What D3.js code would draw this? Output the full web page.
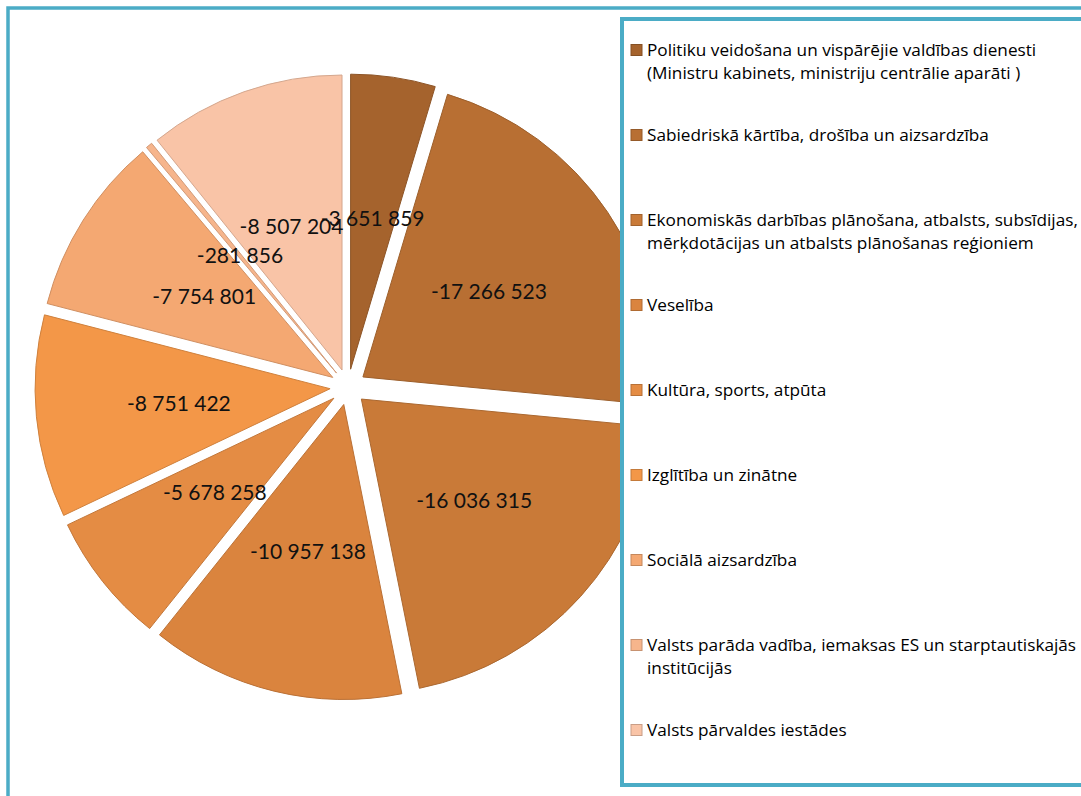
<!DOCTYPE html>
<html>
<head>
<meta charset="utf-8">
<script src="https://cdn.jsdelivr.net/npm/d3@7"></script>
<style>
  body { margin: 0; background: #fff; }
  svg { display: block; }
</style>
</head>
<body>
<svg width="1081" height="796"></svg>
<script>
// categories (legend order = slice order, clockwise from 12 o'clock)
const categories = [
  "Politiku veidošana un vispārējie valdības dienesti\n(Ministru kabinets, ministriju centrālie aparāti )",
  "Sabiedriskā kārtība, drošība un aizsardzība",
  "Ekonomiskās darbības plānošana, atbalsts, subsīdijas,\nmērķdotācijas un atbalsts plānošanas reģioniem",
  "Veselība",
  "Kultūra, sports, atpūta",
  "Izglītība un zinātne",
  "Sociālā aizsardzība",
  "Valsts parāda vadība, iemaksas ES un starptautiskajās\ninstitūcijās",
  "Valsts pārvaldes iestādes"
];
const values = [-3651859, -17266523, -16036315, -10957138, -5678258, -8751422, -7754801, -281856, -8507204];
const colors = ["#a5632d", "#b86f33", "#c97a38", "#da843e", "#e48c44", "#f39748", "#f4a872", "#f6b58c", "#f9c4a7"];

var svg = d3.select("svg");
var width = +svg.attr("width");
var height = +svg.attr("height");

var cx = 348, cy = 387, radius = 295, explode = 18;
var teal = "#4bacc6";

const fmt = d3.formatLocale({ decimal: ",", thousands: " ", grouping: [3], currency: ["", ""], minus: "-" }).format(",d");

// outer chart frame
svg.append("rect")
  .attr("x", 8).attr("y", 8)
  .attr("width", width + 20).attr("height", height + 20)
  .attr("fill", "#fff")
  .attr("stroke", teal)
  .attr("stroke-width", 3.5);

const pie = d3.pie().sort(null).value((d) => Math.abs(d));
const arcs = pie(values);
const arc = d3.arc().innerRadius(0).outerRadius(radius);
const labelArc = d3.arc().innerRadius(0).outerRadius(radius * 1.03);

const shift = (d) => {
  const mid = (d.startAngle + d.endAngle) / 2;
  return [Math.sin(mid) * explode, -Math.cos(mid) * explode];
};

const g = svg.append("g").attr("transform", `translate(${cx}, ${cy})`);

g.selectAll("path.slice")
  .data(arcs)
  .enter()
  .append("path")
  .attr("class", "slice")
  .attr("transform", (d) => `translate(${shift(d)})`)
  .attr("d", arc)
  .attr("fill", (d, i) => colors[i])
  .attr("stroke", (d, i) => d3.color(colors[i]).darker(0.45))
  .attr("stroke-width", 1);

// labels drawn after all slices so none gets hidden
g.selectAll("text.val")
  .data(arcs)
  .enter()
  .append("text")
  .attr("class", "val")
  .attr("transform", (d) => {
    const c = labelArc.centroid(d), s = shift(d);
    return `translate(${c[0] + s[0]}, ${c[1] + s[1]})`;
  })
  .attr("text-anchor", "middle")
  .attr("dy", "0.35em")
  .attr("font-family", "Lato, sans-serif")
  .attr("font-size", 21)
  .attr("fill", "#111")
  .text((d) => fmt(d.data));

// legend box (sits on top of the pie, as in the original)
const lg = svg.append("g");
lg.append("rect")
  .attr("x", 622).attr("y", 19)
  .attr("width", 500).attr("height", 766)
  .attr("fill", "#fff")
  .attr("stroke", teal)
  .attr("stroke-width", 4);

const items = lg.selectAll("g.item")
  .data(categories)
  .enter()
  .append("g")
  .attr("class", "item")
  .attr("transform", (d, i) => `translate(631, ${50 + i * 85})`);

items.append("rect")
  .attr("x", 0).attr("y", -5.5)
  .attr("width", 11).attr("height", 11)
  .attr("fill", (d, i) => colors[i])
  .attr("stroke", (d, i) => d3.color(colors[i]).darker(0.6))
  .attr("stroke-width", 1);

items.append("text")
  .attr("font-family", "'Open Sans', sans-serif")
  .attr("font-size", 17.2)
  .attr("fill", "#000")
  .selectAll("tspan")
  .data((d) => d.split("\n"))
  .enter()
  .append("tspan")
  .attr("x", 16)
  .attr("y", (d, j) => j * 23)
  .attr("dy", "0.35em")
  .text((d) => d);
</script>
</body>
</html>
